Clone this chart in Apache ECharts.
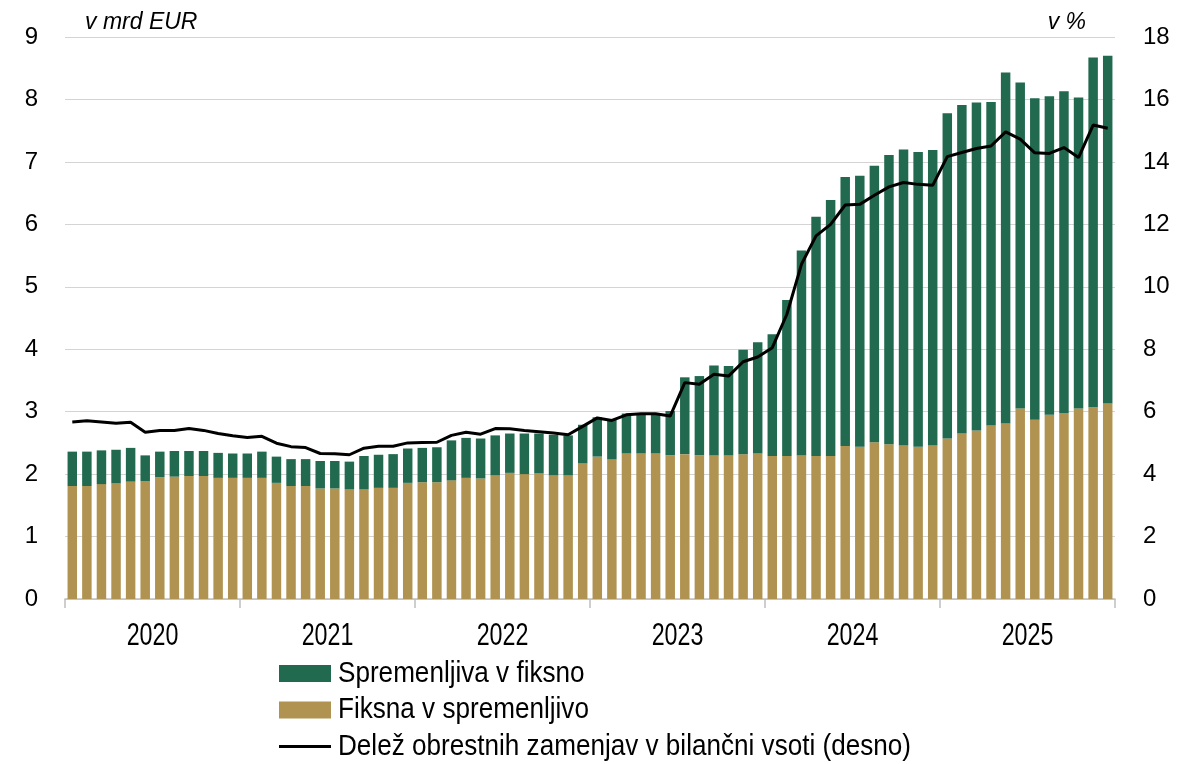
<!DOCTYPE html>
<html>
<head>
<meta charset="utf-8">
<script src="https://cdn.jsdelivr.net/npm/echarts@6/dist/echarts.min.js"></script>
<style>
html,body{margin:0;padding:0;background:#fff;}
#chart{width:1178px;height:764px;}
</style>
</head>
<body>
<div id="chart"></div>
<script>
// Year labels (x-axis)
const years = ['2020','2021','2022','2023','2024','2025'];
// Monthly categories Jan 2020 - Dec 2025
const months = [];
years.forEach(y => { for (let m = 1; m <= 12; m++) months.push(y + '-' + (m < 10 ? '0' + m : m)); });

// Series names (legend)
const seriesNames = [
  'Spremenljiva v fiksno',
  'Fiksna v spremenljivo',
  'Delež obrestnih zamenjav v bilančni vsoti (desno)'
];

// Fiksna v spremenljivo (bn EUR) - bottom part of the stack
const fiksnaVSpremenljivo = [
  1.81,1.81,1.84,1.85,1.88,1.89,1.95,1.96,1.97,1.97,1.94,1.94,
  1.94,1.94,1.86,1.81,1.81,1.77,1.77,1.76,1.76,1.78,1.78,1.86,
  1.87,1.87,1.90,1.94,1.93,1.98,2.02,2.00,2.01,1.98,1.98,2.17,
  2.28,2.24,2.33,2.33,2.33,2.30,2.32,2.30,2.30,2.30,2.32,2.33,
  2.29,2.29,2.30,2.29,2.29,2.45,2.44,2.51,2.48,2.46,2.44,2.46,
  2.57,2.65,2.70,2.78,2.81,3.05,2.87,2.95,2.98,3.05,3.07,3.13
];
// Spremenljiva v fiksno (bn EUR) - top part of the stack
const spremenljivaVFiksno = [
  0.55,0.55,0.54,0.54,0.54,0.41,0.41,0.41,0.40,0.40,0.40,0.39,
  0.39,0.42,0.42,0.43,0.43,0.44,0.44,0.44,0.53,0.53,0.54,0.55,
  0.55,0.56,0.64,0.64,0.64,0.64,0.63,0.65,0.64,0.65,0.64,0.62,
  0.63,0.63,0.64,0.64,0.62,0.71,1.23,1.27,1.44,1.43,1.67,1.78,
  1.95,2.50,3.28,3.83,4.10,4.31,4.34,4.43,4.63,4.74,4.72,4.73,
  5.21,5.26,5.25,5.18,5.62,5.22,5.15,5.10,5.15,4.98,5.60,5.57
];
// Delež obrestnih zamenjav v bilančni vsoti (%), right axis
const delezZamenjav = [
  5.67,5.71,5.67,5.63,5.66,5.34,5.40,5.40,5.46,5.40,5.30,5.23,
  5.17,5.21,4.99,4.88,4.85,4.66,4.65,4.62,4.83,4.89,4.89,5.00,
  5.01,5.02,5.24,5.34,5.28,5.46,5.45,5.40,5.36,5.32,5.26,5.53,
  5.80,5.72,5.90,5.93,5.93,5.86,6.93,6.88,7.20,7.14,7.60,7.75,
  8.05,9.12,10.72,11.63,12.00,12.62,12.64,12.93,13.20,13.34,13.28,13.25,
  14.17,14.30,14.43,14.51,14.96,14.73,14.29,14.27,14.46,14.14,15.18,15.08
];

const GREEN = '#21694F';
const TAN = '#B09350';
const REG = '"Liberation Sans",Arial,sans-serif';

const chart = echarts.init(document.getElementById('chart'), null, {renderer: 'canvas'});
chart.setOption({
  animation: false,
  backgroundColor: '#fff',
  grid: {left: 65, right: 63, top: 37, bottom: 165, containLabel: false},
  legend: {show: false, data: seriesNames},
  xAxis: [
    {type: 'category', data: months, show: false, boundaryGap: true},
    {type: 'category', data: years, position: 'bottom', boundaryGap: true,
     axisLine: {show: true, lineStyle: {color: '#bfbfbf', width: 1.5}},
     axisTick: {show: true, length: 9, lineStyle: {color: '#bfbfbf', width: 1.5}},
     axisLabel: {show: false},
     splitLine: {show: false}}
  ],
  yAxis: [
    {type: 'value', min: 0, max: 9, interval: 1,
     axisLine: {show: false}, axisTick: {show: false},
     axisLabel: {fontFamily: REG, fontSize: 24, color: '#000', margin: 27},
     splitLine: {show: true, lineStyle: {color: '#d4d4d4', width: 1.2}}},
    {type: 'value', min: 0, max: 18, interval: 2,
     axisLine: {show: false}, axisTick: {show: false},
     axisLabel: {fontFamily: REG, fontSize: 24, color: '#000', margin: 28},
     splitLine: {show: false}}
  ],
  series: [
    {name: seriesNames[1], type: 'bar', stack: 'a', xAxisIndex: 0, yAxisIndex: 0,
     data: fiksnaVSpremenljivo, barCategoryGap: '35%', itemStyle: {color: TAN}},
    {name: seriesNames[0], type: 'bar', stack: 'a', xAxisIndex: 0, yAxisIndex: 0,
     data: spremenljivaVFiksno, barCategoryGap: '35%', itemStyle: {color: GREEN}},
    {name: seriesNames[2], type: 'line', xAxisIndex: 0, yAxisIndex: 1,
     data: delezZamenjav, symbol: 'none', showSymbol: false,
     lineStyle: {color: '#000', width: 3}, itemStyle: {color: '#000'}, z: 5}
  ]
});

// Condensed texts (year labels, legend, unit labels) placed via the library's scales
const baseY = chart.convertToPixel({yAxisIndex: 0}, 0);
const graphics = [
  {type: 'text', left: 85, top: 11, style: {text: 'v mrd EUR', font: 'italic 23px ' + REG, fill: '#000'}},
  {type: 'text', right: 1178 - 1086, top: 11, style: {text: 'v %', font: 'italic 23px ' + REG, fill: '#000'}}
];
years.forEach(y => {
  const x = chart.convertToPixel({xAxisIndex: 1}, y);
  graphics.push({type: 'text', x: x, y: baseY + 37, scaleX: 0.75,
    style: {text: y, font: '31px ' + REG, fill: '#000', align: 'center', verticalAlign: 'middle'}});
});
// Legend
const lgX = 279, lgRows = [673.5, 710, 746.5];
const lgColors = [GREEN, TAN];
lgColors.forEach((c, i) => {
  graphics.push({type: 'rect', shape: {x: lgX, y: lgRows[i] - 8.5, width: 52, height: 17}, style: {fill: c}});
});
graphics.push({type: 'line', shape: {x1: lgX, y1: lgRows[2], x2: lgX + 52, y2: lgRows[2]}, style: {stroke: '#000', lineWidth: 3}});
seriesNames.forEach((n, i) => {
  graphics.push({type: 'text', x: 338, y: lgRows[i], scaleX: 0.87,
    style: {text: n, font: '30px ' + REG, fill: '#000', align: 'left', verticalAlign: 'middle'}});
});
chart.setOption({graphic: graphics});
</script>
</body>
</html>
